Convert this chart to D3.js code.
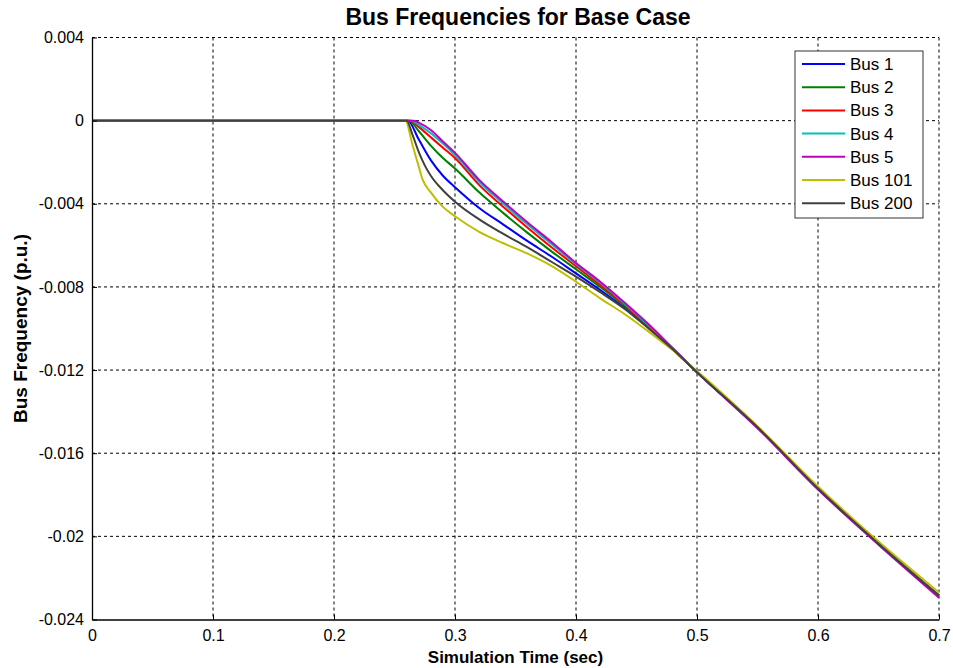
<!DOCTYPE html>
<html>
<head>
<meta charset="utf-8">
<script src="https://cdn.jsdelivr.net/npm/d3@7"></script>
<style>
  body { margin: 0; background: #fff; }
  text { font-family: Arial, "Liberation Sans", sans-serif; }
</style>
</head>
<body>
<div id="chart"></div>
<script>
// values in p.u. * 1e-3, time in seconds
var busNames = ["Bus 1", "Bus 2", "Bus 3", "Bus 4", "Bus 5", "Bus 101", "Bus 200"];
var busColors = ["#0000ff", "#008000", "#ff0000", "#00bfbf", "#bf00bf", "#bfbf00", "#404040"];

var bus1 = [[0,0],[0.261,0],[0.27,-0.9],[0.28,-1.9],[0.29,-2.65],[0.30,-3.2],[0.32,-4.2],[0.34,-5.0],[0.36,-5.8],[0.38,-6.55],[0.40,-7.35],[0.42,-8.15],[0.44,-9.0],[0.46,-9.95],[0.48,-11.0],[0.50,-12.1],[0.55,-14.75],[0.60,-17.7],[0.65,-20.35],[0.70,-22.85]];
var bus2 = [[0,0],[0.262,0],[0.27,-0.5],[0.28,-1.2],[0.29,-1.8],[0.30,-2.3],[0.32,-3.45],[0.34,-4.45],[0.36,-5.4],[0.38,-6.3],[0.40,-7.15],[0.42,-8.0],[0.44,-8.9],[0.46,-9.9],[0.48,-11.0],[0.50,-12.1],[0.55,-14.75],[0.60,-17.7],[0.65,-20.35],[0.70,-22.85]];
var bus3 = [[0,0],[0.263,0],[0.27,-0.3],[0.28,-0.8],[0.29,-1.3],[0.30,-1.8],[0.32,-3.1],[0.34,-4.15],[0.36,-5.15],[0.38,-6.1],[0.40,-7.0],[0.42,-7.9],[0.44,-8.85],[0.46,-9.9],[0.48,-11.0],[0.50,-12.1],[0.55,-14.75],[0.60,-17.7],[0.65,-20.35],[0.70,-22.85]];
var bus4 = [[0,0],[0.264,0],[0.27,-0.2],[0.28,-0.6],[0.29,-1.1],[0.30,-1.65],[0.32,-2.95],[0.34,-4.0],[0.36,-5.0],[0.38,-5.95],[0.40,-6.9],[0.42,-7.8],[0.44,-8.8],[0.46,-9.85],[0.48,-10.95],[0.50,-12.1],[0.55,-14.75],[0.60,-17.7],[0.65,-20.35],[0.70,-22.85]];
var bus5 = [[0,0],[0.266,0],[0.27,-0.1],[0.28,-0.45],[0.29,-1.0],[0.30,-1.55],[0.32,-2.85],[0.34,-3.9],[0.36,-4.9],[0.38,-5.85],[0.40,-6.85],[0.42,-7.75],[0.44,-8.75],[0.46,-9.8],[0.48,-10.95],[0.50,-12.1],[0.55,-14.8],[0.60,-17.75],[0.65,-20.4],[0.70,-22.95]];
var bus101 = [[0,0],[0.259,0],[0.265,-1.2],[0.27,-2.2],[0.273,-2.8],[0.28,-3.45],[0.29,-4.15],[0.30,-4.6],[0.32,-5.35],[0.34,-5.9],[0.36,-6.4],[0.38,-7.0],[0.40,-7.75],[0.42,-8.55],[0.44,-9.3],[0.46,-10.15],[0.48,-11.05],[0.50,-12.05],[0.55,-14.7],[0.60,-17.6],[0.65,-20.25],[0.70,-22.7]];
var bus200 = [[0,0],[0.26,0],[0.265,-0.7],[0.27,-1.5],[0.275,-2.15],[0.28,-2.65],[0.29,-3.35],[0.30,-3.9],[0.32,-4.75],[0.34,-5.45],[0.36,-6.1],[0.38,-6.8],[0.40,-7.5],[0.42,-8.25],[0.44,-9.05],[0.46,-10.0],[0.48,-11.0],[0.50,-12.1],[0.55,-14.75],[0.60,-17.7],[0.65,-20.35],[0.70,-22.85]];

var xTicks = [0, 0.1, 0.2, 0.3, 0.4, 0.5, 0.6, 0.7];
var yTicks = [0.004, 0, -0.004, -0.008, -0.012, -0.016, -0.02, -0.024];

var allBuses = [bus1, bus2, bus3, bus4, bus5, bus101, bus200];

var W = 953, H = 668;
var margin = { top: 37.5, right: 14, bottom: 48.5, left: 92 },
    width = W - margin.left - margin.right,
    height = H - margin.top - margin.bottom;

var svg = d3.select("#chart").append("svg")
    .attr("width", W)
    .attr("height", H);

var g = svg.append("g")
    .attr("transform", "translate(" + margin.left + "," + margin.top + ")");

var x = d3.scaleLinear().domain([0, 0.7]).range([0, width]);
var y = d3.scaleLinear().domain([-0.024, 0.004]).range([height, 0]);

// dotted grid
g.append("g").selectAll("line").data(xTicks.slice(1)).enter().append("line")
    .attr("x1", d => x(d)).attr("x2", d => x(d))
    .attr("y1", 0).attr("y2", height)
    .attr("stroke", "#000").attr("stroke-width", 1)
    .attr("stroke-dasharray", "3,3");
g.append("g").selectAll("line").data(yTicks.slice(0, -1)).enter().append("line")
    .attr("y1", d => y(d)).attr("y2", d => y(d))
    .attr("x1", 0).attr("x2", width)
    .attr("stroke", "#000").attr("stroke-width", 1)
    .attr("stroke-dasharray", "3,3");

// the curves
var line = d3.line()
    .x(d => x(d[0]))
    .y(d => y(d[1] / 1000))
    .curve(d3.curveMonotoneX);

g.append("g").selectAll("path").data(allBuses).enter().append("path")
    .attr("d", line)
    .attr("fill", "none")
    .attr("stroke", (d, i) => busColors[i])
    .attr("stroke-width", 2)
    .attr("stroke-linejoin", "round");

// axes
var fmt = d => d === 0 ? "0" : String(+d.toFixed(3));
var xAxis = g.append("g")
    .attr("transform", "translate(0," + height + ")")
    .call(d3.axisBottom(x).tickValues(xTicks).tickFormat(fmt).tickSizeInner(-5).tickSizeOuter(0).tickPadding(10));
var yAxis = g.append("g")
    .call(d3.axisLeft(y).tickValues(yTicks).tickFormat(fmt).tickSizeInner(-5).tickSizeOuter(0).tickPadding(8));

[xAxis, yAxis].forEach(function (a) {
    a.select(".domain").attr("stroke", "#000").attr("stroke-width", 1.3);
    a.selectAll(".tick line").attr("stroke", "#000");
    a.selectAll("text").attr("fill", "#000").style("font-size", "16px");
});

// title and labels
svg.append("text")
    .attr("x", 518).attr("y", 25)
    .attr("text-anchor", "middle")
    .style("font-size", "23px").style("font-weight", "bold")
    .text("Bus Frequencies for Base Case");

svg.append("text")
    .attr("x", margin.left + width / 2).attr("y", 663)
    .attr("text-anchor", "middle")
    .style("font-size", "17px").style("font-weight", "bold")
    .text("Simulation Time (sec)");

svg.append("text")
    .attr("transform", "translate(27," + (margin.top + height / 2) + ") rotate(-90)")
    .attr("text-anchor", "middle")
    .style("font-size", "19px").style("font-weight", "bold")
    .text("Bus Frequency (p.u.)");

// legend
var legend = svg.append("g").attr("transform", "translate(795,51)");
legend.append("rect")
    .attr("width", 128).attr("height", 167)
    .attr("fill", "#fff").attr("stroke", "#333").attr("stroke-width", 1);

var item = legend.selectAll(".item").data(busNames).enter().append("g")
    .attr("transform", (d, i) => "translate(0," + (13 + i * 23.2) + ")");
item.append("line")
    .attr("x1", 7).attr("x2", 50)
    .attr("stroke", (d, i) => busColors[i]).attr("stroke-width", 2);
item.append("text")
    .attr("x", 55).attr("dy", "0.35em")
    .style("font-size", "17px")
    .text(d => d);
</script>
</body>
</html>
